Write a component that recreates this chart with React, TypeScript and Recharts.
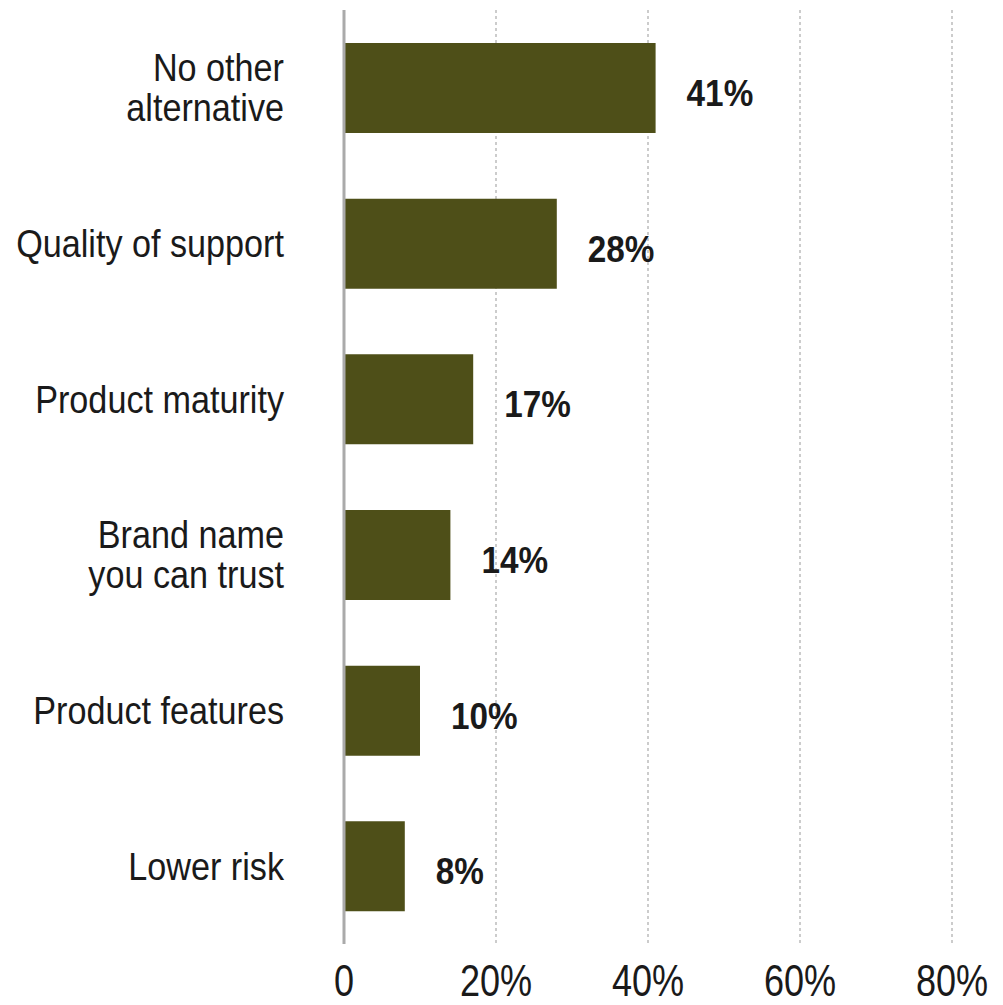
import React from "react";
import { BarChart, Bar, XAxis, YAxis, CartesianGrid, LabelList } from "recharts";

const categories = ["No other\nalternative", "Quality of support", "Product maturity", "Brand name\nyou can trust", "Product features", "Lower risk"];
const values = [41, 28, 17, 14, 10, 8];
const xTicks = [0, 20, 40, 60, 80];
const xTickLabels = ["0", "20%", "40%", "60%", "80%"];

const data = categories.map((c, i) => ({ name: c, value: values[i] }));

const FONT = "'Liberation Sans', Arial, sans-serif";

const CatTick = (props: any) => {
  const { x, y, payload } = props;
  const lines = String(payload.value).split("\n");
  const lh = 40;
  const start = -((lines.length - 1) * lh) / 2;
  return (
    <g transform={`translate(${x - 52},${y})`}>
      <text transform="scale(0.9,1)" textAnchor="end" fontFamily={FONT} fontSize={38} fill="#1a1a1a">
        {lines.map((l, i) => (
          <tspan key={i} x={0} y={start + i * lh + 13.5}>
            {l}
          </tspan>
        ))}
      </text>
    </g>
  );
};

const ValTick = (props: any) => {
  const { x, y, payload } = props;
  const idx = xTicks.indexOf(payload.value);
  return (
    <g transform={`translate(${x},${y + 44})`}>
      <text transform="scale(0.82,1)" x={0} y={0} textAnchor="middle" fontFamily={FONT} fontSize={44} fill="#1a1a1a">
        {xTickLabels[idx]}
      </text>
    </g>
  );
};

const ValueLabel = (props: any) => {
  const { x, y, width, height, value } = props;
  return (
    <g transform={`translate(${x + width + 31},${y + height / 2 + 18})`}>
      <text transform="scale(0.9,1)" x={0} y={0} fontFamily={FONT} fontWeight="bold" fontSize={37} fill="#1a1a1a">
        {value}%
      </text>
    </g>
  );
};

export default function App() {
  return (
    <div style={{ position: "absolute", left: 0, top: 0, background: "#fff" }}>
      <BarChart
        width={1003}
        height={1005}
        data={data}
        layout="vertical"
        margin={{ top: 10, right: 51, left: 0, bottom: 0 }}
      >
        <CartesianGrid horizontal={false} stroke="#999" strokeDasharray="3 3" />
        <XAxis
          type="number"
          domain={[0, 80]}
          ticks={xTicks}
          axisLine={false}
          tickLine={false}
          height={61}
          tick={<ValTick />}
          interval={0}
        />
        <YAxis
          type="category"
          dataKey="name"
          width={344}
          axisLine={{ stroke: "#aaa", strokeWidth: 3 }}
          tickLine={false}
          tick={<CatTick />}
          interval={0}
        />
        <Bar dataKey="value" fill="#4e4f18" barSize={90} isAnimationActive={false}>
          <LabelList dataKey="value" content={<ValueLabel />} />
        </Bar>
      </BarChart>
    </div>
  );
}
